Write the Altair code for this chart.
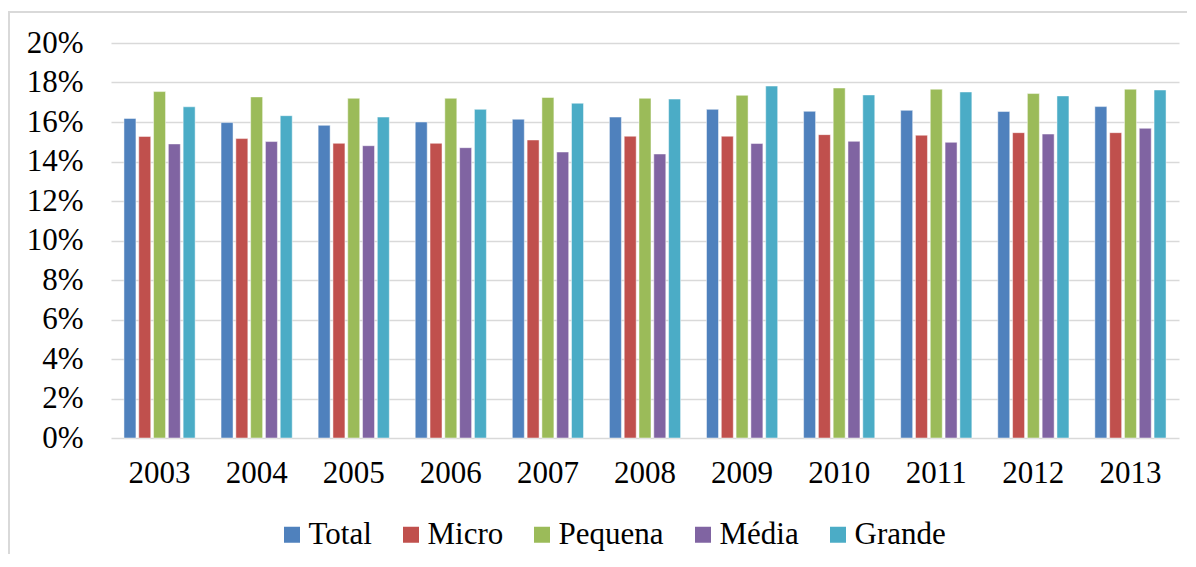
import altair as alt
import pandas as pd

years = ["2003", "2004", "2005", "2006", "2007", "2008", "2009", "2010", "2011", "2012", "2013"]
series = ["Total", "Micro", "Pequena", "Média", "Grande"]
colors = ["#4F81BD", "#C0504D", "#9BBB59", "#8064A2", "#4BACC6"]

total = [16.18, 15.97, 15.83, 16.00, 16.14, 16.25, 16.64, 16.54, 16.59, 16.53, 16.78]
micro = [15.27, 15.16, 14.92, 14.92, 15.09, 15.28, 15.28, 15.36, 15.33, 15.46, 15.46]
pequena = [17.54, 17.27, 17.20, 17.20, 17.24, 17.20, 17.35, 17.72, 17.66, 17.44, 17.66]
media = [14.89, 15.01, 14.80, 14.70, 14.48, 14.38, 14.91, 15.02, 14.97, 15.39, 15.68]
grande = [16.77, 16.32, 16.25, 16.64, 16.95, 17.16, 17.82, 17.37, 17.52, 17.32, 17.62]

y_ticks = [0, 2, 4, 6, 8, 10, 12, 14, 16, 18, 20]

rows = []
for s, vals in zip(series, [total, micro, pequena, media, grande]):
    for yr, v in zip(years, vals):
        rows.append({"ano": yr, "serie": s, "valor": v})
df = pd.DataFrame(rows)

W, H = 1068, 395
FONT = "Liberation Serif"

bars = alt.Chart(df).mark_bar(stroke="white", strokeWidth=0.8, strokeOpacity=0.6).encode(
    x=alt.X(
        "ano:N", sort=years,
        scale=alt.Scale(paddingInner=0.238, paddingOuter=0.119),
        axis=alt.Axis(title=None, labelAngle=0, labelFont=FONT, labelFontSize=31,
                      labelColor="black", labelPadding=20, ticks=False, domain=False,
                      labelBaseline="top"),
    ),
    xOffset=alt.XOffset("serie:N", sort=series,
                        scale=alt.Scale(paddingInner=0.19, paddingOuter=0.095)),
    y=alt.Y(
        "valor:Q",
        scale=alt.Scale(domain=[0, 20], nice=False),
        axis=alt.Axis(title=None, values=y_ticks, labelExpr="datum.value + '%'",
                      grid=True, gridColor="#D9D9D9", gridWidth=1.5, ticks=False,
                      domain=False, labelPadding=28, labelFont=FONT, labelFontSize=31,
                      labelColor="black"),
    ),
    color=alt.Color(
        "serie:N", sort=series,
        scale=alt.Scale(domain=series, range=colors),
        legend=alt.Legend(title=None, orient="none", legendX=165.5, legendY=476,
                          direction="horizontal", symbolType="square", symbolSize=256,
                          symbolStrokeWidth=0, symbolOpacity=1, labelFont=FONT,
                          labelFontSize=31, labelColor="black", columnPadding=23,
                          labelOffset=1, padding=0),
    ),
)

frame = alt.Chart(pd.DataFrame({"k": [0]})).mark_rect(
    fill="transparent", stroke="#D9D9D9", strokeWidth=2
).encode(
    x=alt.value(-102), x2=alt.value(W + 60),
    y=alt.value(-31), y2=alt.value(H + 200),
)

chart = alt.layer(frame, bars).properties(
    width=W, height=H,
    autosize=alt.AutoSizeParams(type="none"),
    padding={"left": 103, "top": 35, "right": 8, "bottom": 116},
    background="white",
).configure(
    font=FONT
).configure_axis(
    labelFont=FONT
).configure_legend(
    labelFont=FONT
).configure_view(strokeWidth=0)

chart.save("out.html", embed_options={"renderer": "svg", "actions": False})
